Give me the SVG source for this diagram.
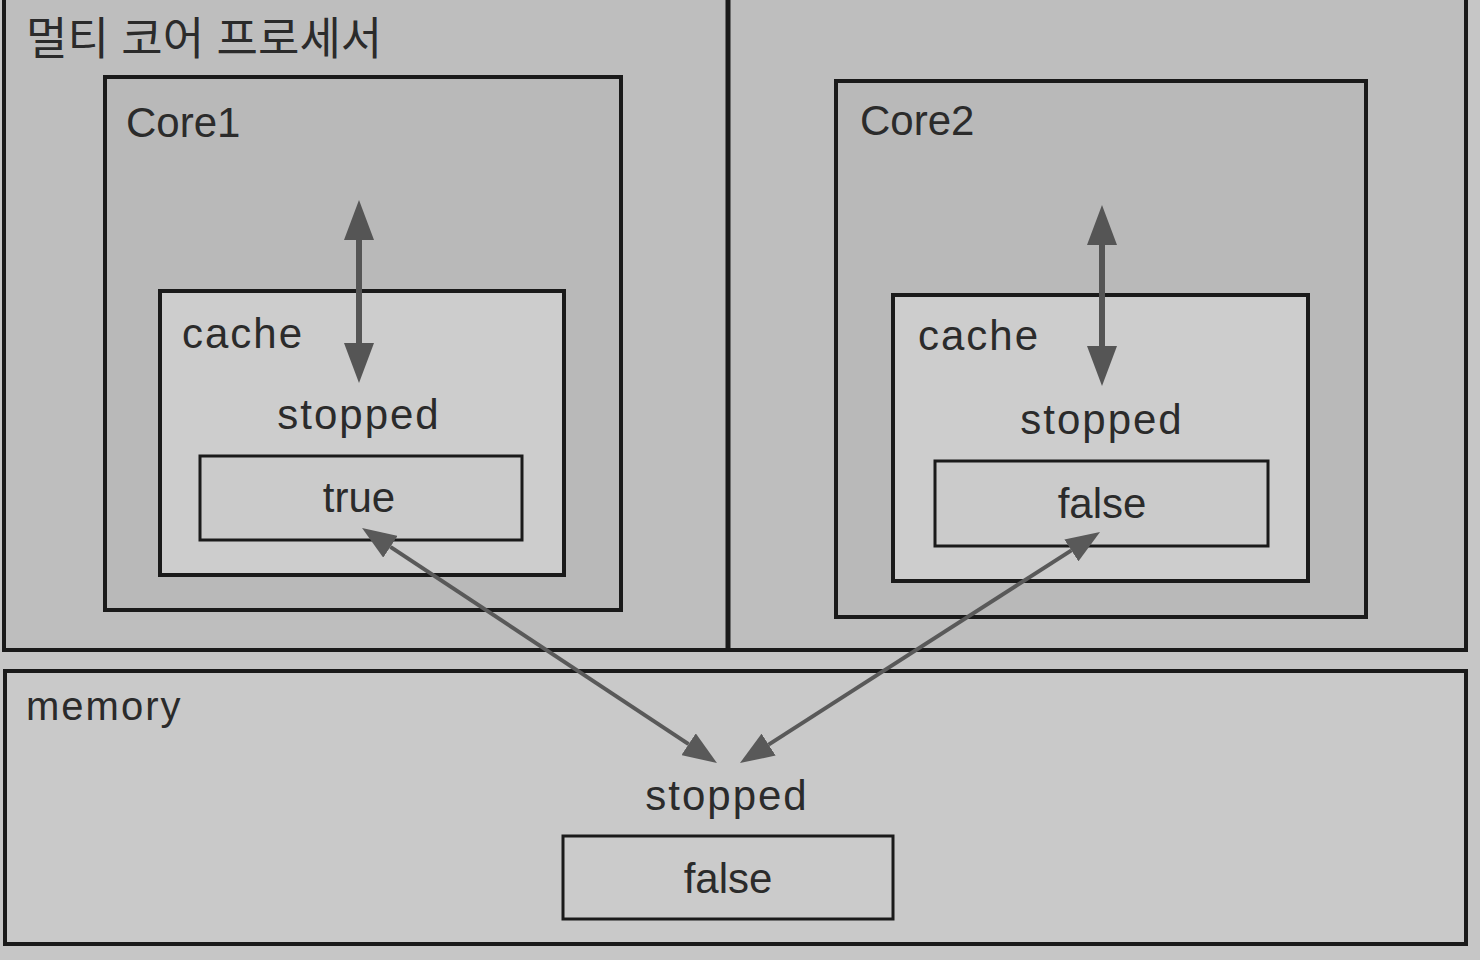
<svg xmlns="http://www.w3.org/2000/svg" width="1480" height="960" viewBox="0 0 1480 960">
<defs>
<marker id="headV" markerUnits="userSpaceOnUse" markerWidth="40" markerHeight="30" refX="0" refY="15" orient="auto-start-reverse"><path d="M0,0 L40,15 L0,30 Z" fill="#555"/></marker>
<marker id="headD" markerUnits="userSpaceOnUse" markerWidth="34" markerHeight="26" refX="0" refY="13" orient="auto-start-reverse"><path d="M0,0 L34,13 L0,26 Z" fill="#595959"/></marker>
</defs>
<style>
.box{stroke:#1a1a1a;stroke-width:4}
.proc{fill:#bebebe}
.core{fill:#b9b9b9}
.cache{fill:#cdcdcd}
.val{fill:#cbcbcb;stroke:#1a1a1a;stroke-width:3}
.mem{fill:#c9c9c9}
text{font-family:"Liberation Sans","Noto Sans CJK KR",sans-serif;fill:#2b2b2b}
.lbl{font-size:42px}
.sp{letter-spacing:2px}
.mid{text-anchor:middle}
.conn line{stroke:#555;stroke-width:6}
.conn line.d{stroke:#595959;stroke-width:4}
</style>
<rect x="0" y="0" width="1480" height="960" fill="#c6c6c6"/>
<g id="processor">
<rect class="box proc" x="4" y="-4" width="1462" height="654"/>
<line x1="728" y1="-4" x2="728" y2="650" stroke="#1a1a1a" stroke-width="5"/>
<text x="26" y="55" font-size="45">멀티 코어 프로세서</text>
</g>
<g id="core1">
<rect class="box core" x="105" y="77" width="516" height="533"/>
<text class="lbl" x="126" y="137">Core1</text>
</g>
<g id="cache1">
<rect class="box cache" x="160" y="291" width="404" height="284"/>
<text class="lbl sp" x="182" y="348">cache</text>
<text class="lbl mid sp" x="359" y="429">stopped</text>
</g>
<g id="val1">
<rect class="val" x="200" y="456" width="322" height="84"/>
<text class="lbl mid" x="359" y="512">true</text>
</g>
<g id="core2">
<rect class="box core" x="836" y="81" width="530" height="536"/>
<text class="lbl" x="860" y="135">Core2</text>
</g>
<g id="cache2">
<rect class="box cache" x="893" y="295" width="415" height="286"/>
<text class="lbl sp" x="918" y="350">cache</text>
<text class="lbl mid sp" x="1102" y="434">stopped</text>
</g>
<g id="val2">
<rect class="val" x="935" y="461" width="333" height="85"/>
<text class="lbl mid" x="1102" y="518">false</text>
</g>
<g id="memory">
<rect class="box mem" x="5" y="671" width="1461" height="273"/>
<text x="26" y="720" font-size="40" letter-spacing="2">memory</text>
<text class="lbl mid sp" x="727" y="810">stopped</text>
</g>
<g id="memval">
<rect class="val" x="563" y="836" width="330" height="83"/>
<text class="lbl mid" x="728" y="893">false</text>
</g>
<g id="connectors" class="conn">
<line x1="359" y1="240" x2="359" y2="343" marker-start="url(#headV)" marker-end="url(#headV)"/>
<line x1="1102" y1="245" x2="1102" y2="346" marker-start="url(#headV)" marker-end="url(#headV)"/>
<line class="d" x1="390.4" y1="546.8" x2="688.6" y2="744.2" marker-start="url(#headD)" marker-end="url(#headD)"/>
<line class="d" x1="1071.4" y1="550.4" x2="768.6" y2="744.6" marker-start="url(#headD)" marker-end="url(#headD)"/>
</g>
</svg>
